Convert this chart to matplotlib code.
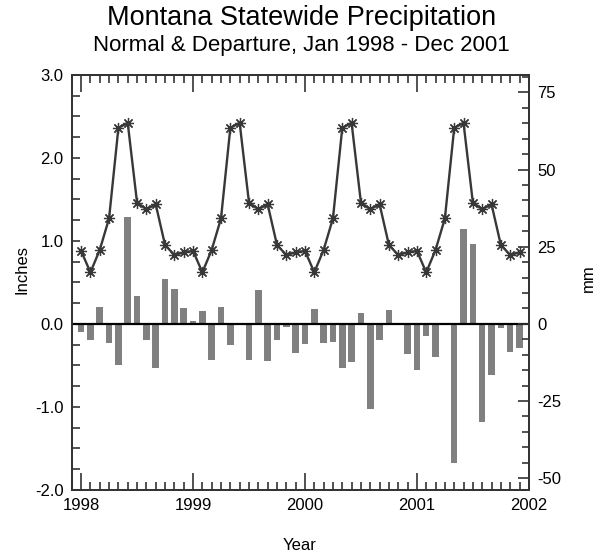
import matplotlib
matplotlib.use("Agg")
import matplotlib.pyplot as plt
from matplotlib.ticker import MultipleLocator, FormatStrFormatter
import numpy as np

plt.rcParams['font.family'] = ['Liberation Sans', 'DejaVu Sans']
plt.rcParams['axes.unicode_minus'] = False

# monthly normal (inches), same every year
normal_monthly = [0.88, 0.62, 0.89, 1.27, 2.36, 2.42, 1.46, 1.38, 1.44, 0.95, 0.83, 0.86]
years = [1998, 1999, 2000, 2001]

# departure from normal (inches), Jan 1998 - Dec 2001
dep_1998 = [-0.10, -0.19, 0.20, -0.23, -0.49, 1.29, 0.34, -0.20, -0.53, 0.54, 0.42, 0.19]
dep_1999 = [0.03, 0.15, -0.44, 0.20, -0.25, -0.01, -0.44, 0.41, -0.45, -0.19, -0.04, -0.35]
dep_2000 = [-0.24, 0.18, -0.23, -0.22, -0.53, -0.46, 0.13, -1.03, -0.20, 0.17, -0.01, -0.36]
dep_2001 = [-0.55, -0.15, -0.40, -0.01, -1.67, 1.14, 0.96, -1.18, -0.61, -0.05, -0.34, -0.29]

departure = dep_1998 + dep_1999 + dep_2000 + dep_2001
normal = normal_monthly * len(years)
t = np.array([y + m / 12 for y in years for m in range(12)])

mm_per_in = 26.9  # right axis scale as drawn

fig = plt.figure(figsize=(6.03, 5.58), dpi=100)
ax = fig.add_axes([0.119, 0.122, 0.758, 0.744])

ax.bar(t, departure, width=0.7 / 12, color="#808080", zorder=2)
ax.axhline(0, color="black", lw=1.6, zorder=3)
ax.plot(t, normal, color="#383838", lw=1.7, marker=(8, 2, 0), ms=8,
        mew=0.9, mec="#383838", zorder=4)

ax.set_xlim(1998 - 1 / 12, 2002)
ax.set_ylim(-2.0, 3.0)
ax.xaxis.set_major_locator(MultipleLocator(1))
ax.xaxis.set_minor_locator(MultipleLocator(1 / 12))
ax.yaxis.set_major_locator(MultipleLocator(1))
ax.yaxis.set_minor_locator(MultipleLocator(0.25))
ax.yaxis.set_major_formatter(FormatStrFormatter("%.1f"))
ax.xaxis.set_major_formatter(FormatStrFormatter("%d"))
ax.tick_params(which="both", direction="in", top=True, right=False,
               color="#333333", width=1.2, labelsize=12, pad=6)
ax.tick_params(axis="x", which="major", length=12)
ax.tick_params(axis="x", which="minor", length=6)
ax.tick_params(axis="y", which="both", length=6)
for s in ax.spines.values():
    s.set_color("#333333")
    s.set_linewidth(1.3)

ax2 = ax.twinx()
ax2.set_ylim(-2.0 * mm_per_in, 3.0 * mm_per_in)
ax2.yaxis.set_major_locator(MultipleLocator(25))
ax2.yaxis.set_minor_locator(MultipleLocator(5))
ax2.tick_params(which="both", direction="in", color="#333333", width=1.2,
                labelsize=12, pad=6)
ax2.tick_params(which="major", length=8)
ax2.tick_params(which="minor", length=5)
for s in ax2.spines.values():
    s.set_color("#333333")
    s.set_linewidth(1.3)

fig.text(22 / 603, 1 - 270 / 558, "Inches", rotation=90, ha="center", va="center",
         fontsize=12)
fig.text(588 / 603, 1 - 278 / 558, "mm", rotation=90, ha="center", va="center",
         fontsize=12)
fig.text(300 / 603, 1 - 545 / 558, "Year", ha="center", va="center", fontsize=12)

fig.text(0.5, 0.968, "Montana Statewide Precipitation", ha="center", va="center",
         fontsize=19.5)
fig.text(0.5, 0.918, "Normal & Departure, Jan 1998 - Dec 2001", ha="center",
         va="center", fontsize=16)

fig.savefig("out.png", dpi=100)
